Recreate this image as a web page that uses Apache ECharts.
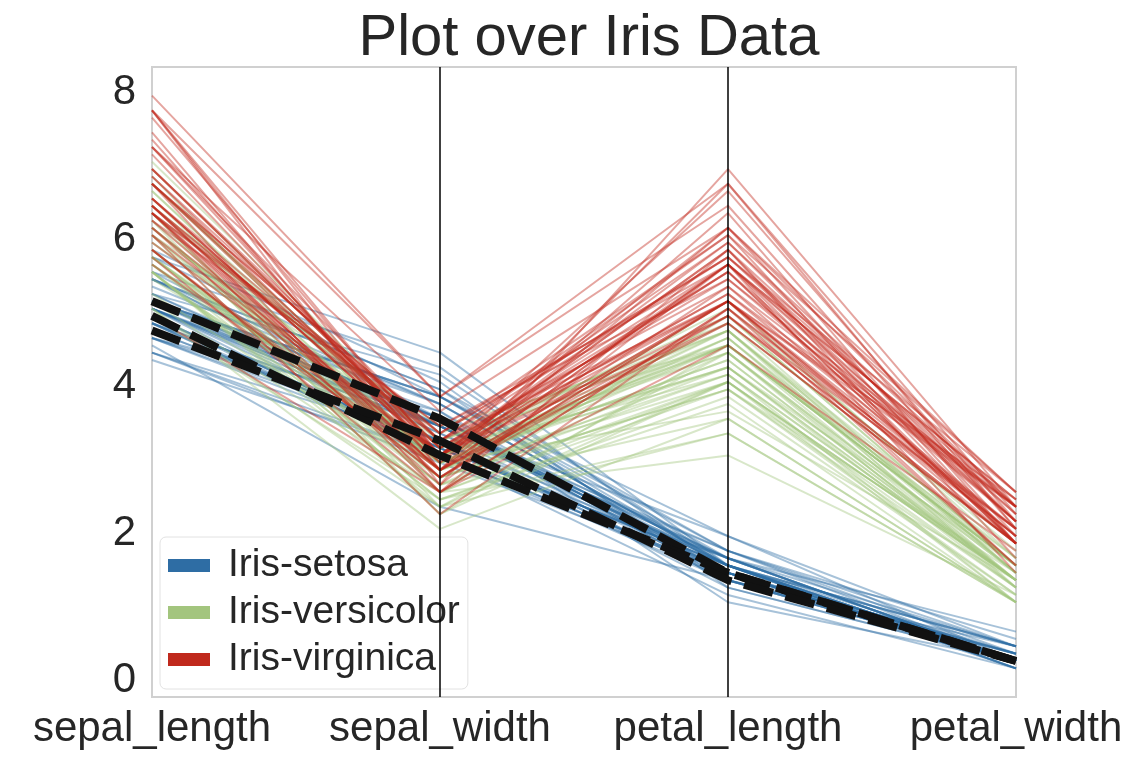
<!DOCTYPE html>
<html>
<head>
<meta charset="utf-8">
<script src="https://cdn.jsdelivr.net/npm/echarts@6/dist/echarts.min.js"></script>
<style>html,body{margin:0;padding:0;background:#fff}#c{width:1136px;height:764px}</style>
</head>
<body>
<div id="c"></div>
<script>
const features = ['sepal_length', 'sepal_width', 'petal_length', 'petal_width'];
const speciesNames = ['Iris-setosa', 'Iris-versicolor', 'Iris-virginica'];
const yTicks = [0, 2, 4, 6, 8];

const setosaRows = [
[5.1,3.5,1.4,0.2],[4.9,3.0,1.4,0.2],[4.7,3.2,1.3,0.2],[4.6,3.1,1.5,0.2],[5.0,3.6,1.4,0.2],
[5.4,3.9,1.7,0.4],[4.6,3.4,1.4,0.3],[5.0,3.4,1.5,0.2],[4.4,2.9,1.4,0.2],[4.9,3.1,1.5,0.1],
[5.4,3.7,1.5,0.2],[4.8,3.4,1.6,0.2],[4.8,3.0,1.4,0.1],[4.3,3.0,1.1,0.1],[5.8,4.0,1.2,0.2],
[5.7,4.4,1.5,0.4],[5.4,3.9,1.3,0.4],[5.1,3.5,1.4,0.3],[5.7,3.8,1.7,0.3],[5.1,3.8,1.5,0.3],
[5.4,3.4,1.7,0.2],[5.1,3.7,1.5,0.4],[4.6,3.6,1.0,0.2],[5.1,3.3,1.7,0.5],[4.8,3.4,1.9,0.2],
[5.0,3.0,1.6,0.2],[5.0,3.4,1.6,0.4],[5.2,3.5,1.5,0.2],[5.2,3.4,1.4,0.2],[4.7,3.2,1.6,0.2],
[4.8,3.1,1.6,0.2],[5.4,3.4,1.5,0.4],[5.2,4.1,1.5,0.1],[5.5,4.2,1.4,0.2],[4.9,3.1,1.5,0.1],
[5.0,3.2,1.2,0.2],[5.5,3.5,1.3,0.2],[4.9,3.1,1.5,0.1],[4.4,3.0,1.3,0.2],[5.1,3.4,1.5,0.2],
[5.0,3.5,1.3,0.3],[4.5,2.3,1.3,0.3],[4.4,3.2,1.3,0.2],[5.0,3.5,1.6,0.6],[5.1,3.8,1.9,0.4],
[4.8,3.0,1.4,0.3],[5.1,3.8,1.6,0.2],[4.6,3.2,1.4,0.2],[5.3,3.7,1.5,0.2],[5.0,3.3,1.4,0.2]
];
const versicolorRows = [
[7.0,3.2,4.7,1.4],[6.4,3.2,4.5,1.5],[6.9,3.1,4.9,1.5],[5.5,2.3,4.0,1.3],[6.5,2.8,4.6,1.5],
[5.7,2.8,4.5,1.3],[6.3,3.3,4.7,1.6],[4.9,2.4,3.3,1.0],[6.6,2.9,4.6,1.3],[5.2,2.7,3.9,1.4],
[5.0,2.0,3.5,1.0],[5.9,3.0,4.2,1.5],[6.0,2.2,4.0,1.0],[6.1,2.9,4.7,1.4],[5.6,2.9,3.6,1.3],
[6.7,3.1,4.4,1.4],[5.6,3.0,4.5,1.5],[5.8,2.7,4.1,1.0],[6.2,2.2,4.5,1.5],[5.6,2.5,3.9,1.1],
[5.9,3.2,4.8,1.8],[6.1,2.8,4.0,1.3],[6.3,2.5,4.9,1.5],[6.1,2.8,4.7,1.2],[6.4,2.9,4.3,1.3],
[6.6,3.0,4.4,1.4],[6.8,2.8,4.8,1.4],[6.7,3.0,5.0,1.7],[6.0,2.9,4.5,1.5],[5.7,2.6,3.5,1.0],
[5.5,2.4,3.8,1.1],[5.5,2.4,3.7,1.0],[5.8,2.7,3.9,1.2],[6.0,2.7,5.1,1.6],[5.4,3.0,4.5,1.5],
[6.0,3.4,4.5,1.6],[6.7,3.1,4.7,1.5],[6.3,2.3,4.4,1.3],[5.6,3.0,4.1,1.3],[5.5,2.5,4.0,1.3],
[5.5,2.6,4.4,1.2],[6.1,3.0,4.6,1.4],[5.8,2.6,4.0,1.2],[5.0,2.3,3.3,1.0],[5.6,2.7,4.2,1.3],
[5.7,3.0,4.2,1.2],[5.7,2.9,4.2,1.3],[6.2,2.9,4.3,1.3],[5.1,2.5,3.0,1.1],[5.7,2.8,4.1,1.3]
];
const virginicaRows = [
[6.3,3.3,6.0,2.5],[5.8,2.7,5.1,1.9],[7.1,3.0,5.9,2.1],[6.3,2.9,5.6,1.8],[6.5,3.0,5.8,2.2],
[7.6,3.0,6.6,2.1],[4.9,2.5,4.5,1.7],[7.3,2.9,6.3,1.8],[6.7,2.5,5.8,1.8],[7.2,3.6,6.1,2.5],
[6.5,3.2,5.1,2.0],[6.4,2.7,5.3,1.9],[6.8,3.0,5.5,2.1],[5.7,2.5,5.0,2.0],[5.8,2.8,5.1,2.4],
[6.4,3.2,5.3,2.3],[6.5,3.0,5.5,1.8],[7.7,3.8,6.7,2.2],[7.7,2.6,6.9,2.3],[6.0,2.2,5.0,1.5],
[6.9,3.2,5.7,2.3],[5.6,2.8,4.9,2.0],[7.7,2.8,6.7,2.0],[6.3,2.7,4.9,1.8],[6.7,3.3,5.7,2.1],
[7.2,3.2,6.0,1.8],[6.2,2.8,4.8,1.8],[6.1,3.0,4.9,1.8],[6.4,2.8,5.6,2.1],[7.2,3.0,5.8,1.6],
[7.4,2.8,6.1,1.9],[7.9,3.8,6.4,2.0],[6.4,2.8,5.6,2.2],[6.3,2.8,5.1,1.5],[6.1,2.6,5.6,1.4],
[7.7,3.0,6.1,2.3],[6.3,3.4,5.6,2.4],[6.4,3.1,5.5,1.8],[6.0,3.0,4.8,1.8],[6.9,3.1,5.4,2.1],
[6.7,3.1,5.6,2.4],[6.9,3.1,5.1,2.3],[5.8,2.7,5.1,1.9],[6.8,3.2,5.9,2.3],[6.7,3.3,5.7,2.5],
[6.7,3.0,5.2,2.3],[6.3,2.5,5.0,1.9],[6.5,3.0,5.2,2.0],[6.2,3.4,5.4,2.3],[5.9,3.0,5.1,1.8]
];
// rows drawn as thick black dashed lines (first rows of the table)
const highlightRows = setosaRows.slice(0, 3);

const colors = ['#2e6da4', '#a3c57e', '#c0291d'];
const FONT = '"Liberation Sans", Arial, sans-serif';
const TEXT = '#262626';

function toPoints(row) { return row.map((v, i) => [i, v]); }

const series = [];
// legend-only series (solid colours)
speciesNames.forEach((n, k) => {
  series.push({ name: n, type: 'line', data: [], symbol: 'none',
    itemStyle: { color: colors[k] }, lineStyle: { color: colors[k] } });
});
[setosaRows, versicolorRows, virginicaRows].forEach((rows, k) => {
  rows.forEach(r => {
    series.push({
      name: speciesNames[k], type: 'line', data: toPoints(r), symbol: 'none',
      silent: true, animation: false,
      itemStyle: { color: colors[k] },
      lineStyle: { color: colors[k], width: 2, opacity: 0.42 }
    });
  });
});
highlightRows.forEach(r => {
  series.push({
    type: 'line', data: toPoints(r), symbol: 'none', silent: true, animation: false, z: 5,
    lineStyle: { color: '#111111', width: 8, type: [30, 13], cap: 'butt', opacity: 1 }
  });
});
// vertical axis lines at inner features
series.push({
  type: 'line', data: [], silent: true, z: 6,
  markLine: { silent: true, symbol: 'none', animation: false, label: { show: false },
    lineStyle: { color: '#000', width: 1.5, type: 'solid' },
    data: [{ xAxis: 1 }, { xAxis: 2 }] }
});

const chart = echarts.init(document.getElementById('c'), null, { renderer: 'canvas' });
chart.setOption({
  animation: false,
  backgroundColor: '#ffffff',
  title: {
    text: 'Plot over Iris Data', left: 584, top: 5, textAlign: 'center',
    textStyle: { fontFamily: FONT, fontSize: 58, fontWeight: 'normal', color: TEXT }
  },
  grid: { left: 152, right: 120, top: 67, bottom: 67, show: true,
    borderColor: '#d0d0d0', borderWidth: 2, backgroundColor: 'transparent' },
  legend: {
    data: speciesNames, orient: 'vertical', left: 160, top: 537,
    icon: 'rect', itemWidth: 42, itemHeight: 13, itemGap: 8,
    backgroundColor: 'rgba(255,255,255,0.8)', borderColor: '#e2e2e2', borderWidth: 1,
    borderRadius: 6, padding: [9, 8, 10, 8],
    itemStyle: { opacity: 1 },
    textStyle: { fontFamily: FONT, fontSize: 39, color: TEXT, padding: [0, 0, 0, 13] }
  },
  xAxis: {
    type: 'value', min: 0, max: 3, interval: 1,
    axisLine: { show: false }, axisTick: { show: false }, splitLine: { show: false },
    axisLabel: { margin: 11, fontFamily: FONT, fontSize: 42, color: TEXT,
      formatter: v => features[v] || '' }
  },
  yAxis: {
    type: 'value', min: -0.29, max: 8.29,
    axisLine: { show: false }, axisTick: { show: false }, splitLine: { show: false },
    axisLabel: { margin: 16, fontFamily: FONT, fontSize: 42, color: TEXT,
      customValues: yTicks, formatter: v => '{t|' + v + '}',
      rich: { t: { fontFamily: FONT, fontSize: 42, color: TEXT, padding: [9, 0, 0, 0] } } }
  },
  series: series
});
</script>
</body>
</html>
